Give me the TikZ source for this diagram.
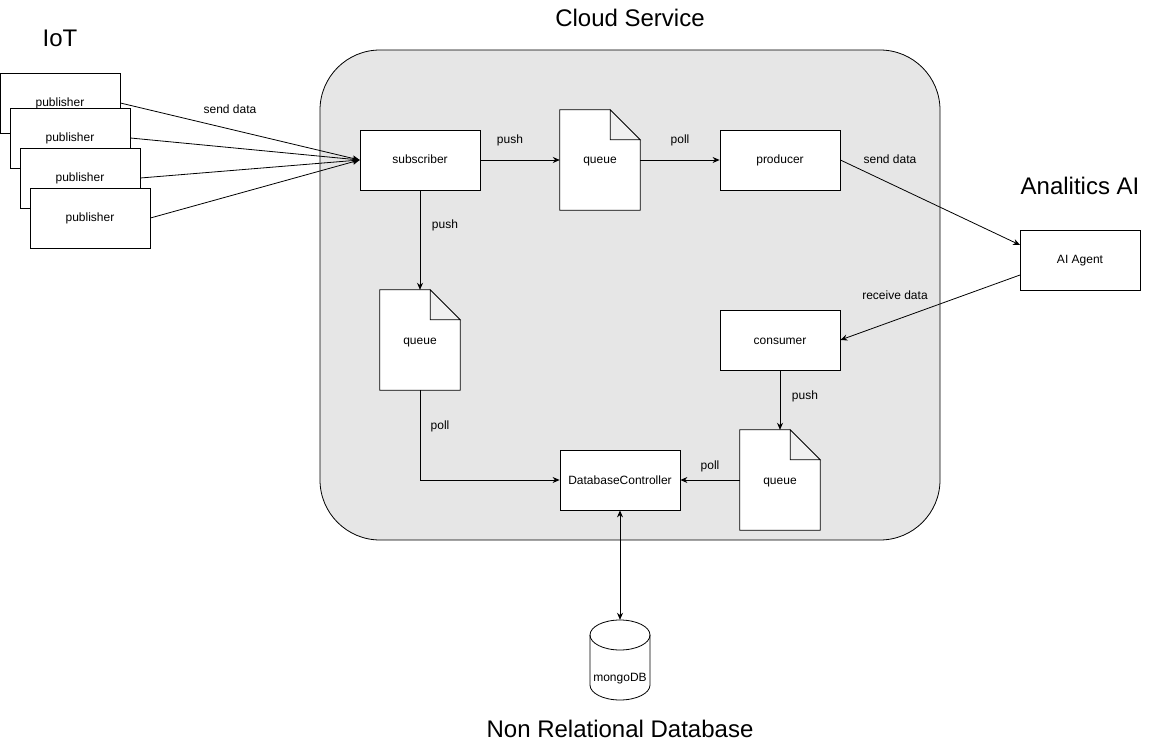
\documentclass[tikz,border=0pt]{standalone}
\usepackage{fontspec}
\setmainfont{Liberation Sans}
\usetikzlibrary{arrows.meta}
\definecolor{cloudgray}{HTML}{E6E6E6}
\definecolor{foldgray}{HTML}{F0F0F0}
\tikzset{
  box/.style={draw, fill=white, line width=0.8pt, minimum width=120pt, minimum height=60pt, inner sep=0pt, text height=10pt, text depth=2pt, font=\fontsize{12}{14}\selectfont},
  qbox/.style={minimum width=80pt, minimum height=100pt, inner sep=0pt, text height=10pt, text depth=2pt, font=\fontsize{12}{14}\selectfont},
  qshape/.style={draw, fill=white, line width=0.8pt},
  title/.style={font=\fontsize{24}{28}\selectfont, text height=18pt, text depth=4pt},
  lbl/.style={font=\fontsize{12}{14}\selectfont, inner sep=1pt, text height=10pt, text depth=2pt},
  conn/.style={draw, line width=0.8pt, -{Stealth[length=7pt,width=6pt]}},
}
\begin{document}
\begin{tikzpicture}[x=1pt,y=-1pt]
\useasboundingbox (0,0) rectangle (1151,751);
% container
\draw[fill=cloudgray, line width=0.8pt, rounded corners=60pt] (320,50) rectangle (940,540);
% titles
\node[title] (tcloud) at (630,20) {Cloud Service};
\node[title] (tiot) at (60,40) {IoT};
\node[title] (tai) at (1080,188) {Analitics AI};
\node[title] (tdb) at (620,730) {Non Relational Database};
% publishers
\node[box] (p1) at (60,103) {publisher};
\node[box] (p2) at (70,138) {publisher};
\node[box] (p3) at (80,178) {publisher};
\node[box] (p4) at (90,218) {publisher};
% boxes
\node[box] (sub) at (420,160) {subscriber};
\node[box] (prod) at (780,160) {producer};
\node[box] (cons) at (780,340) {consumer};
\node[box] (dbc) at (620,480) {DatabaseController};
\node[box] (ai) at (1080,260) {AI Agent};
% queues
\foreach \n/\x/\y in {q1/600/160, q2/420/340, q3/780/480}{
  \node[qbox] (\n) at (\x,\y) {};
  \draw[qshape] (\n.south west) -- (\n.north west) -- ([xshift=-30pt]\n.north east) -- ([yshift=-30pt]\n.north east) -- (\n.south east) -- cycle;
  \draw[fill=foldgray, line width=0.8pt] ([xshift=-30pt]\n.north east) -- ([xshift=-30pt,yshift=-30pt]\n.north east) -- ([yshift=-30pt]\n.north east) -- cycle;
  \node[qbox] at (\n) {queue};
}
% cylinder
\node[minimum width=60pt, minimum height=80pt, inner sep=0pt] (db) at (620,660) {};
\draw[fill=white, line width=0.8pt] (590,635) -- (590,685) arc[start angle=180, end angle=360, x radius=30pt, y radius=15pt] -- (650,635) arc[start angle=0, end angle=180, x radius=30pt, y radius=15pt] -- cycle;
\draw[line width=0.8pt] (590,635) arc[start angle=180, end angle=360, x radius=30pt, y radius=15pt];
\node[lbl] at (620,677) {mongoDB};
% connectors
\draw[conn] (p1.east) -- (sub.west);
\draw[conn] (p2.east) -- (sub.west);
\draw[conn] (p3.east) -- (sub.west);
\draw[conn] (p4.east) -- (sub.west);
\node[lbl] at (230,110) {send data};
\draw[conn] (sub.east) -- (q1.west);
\node[lbl] at (510,140) {push};
\draw[conn] (q1.east) -- (prod.west);
\node[lbl] at (680,140) {poll};
\coordinate (aiin) at (1020,245);
\coordinate (aiout) at (1020,275);
\draw[conn] (prod.east) -- (aiin);
\node[lbl] at (890,160) {send data};
\draw[conn] (aiout) -- (cons.east);
\node[lbl] at (895,295) {receive data};
\draw[conn] (sub.south) -- (q2.north);
\node[lbl] at (445,225) {push};
\draw[conn] (q2.south) |- (dbc.west);
\node[lbl] at (440,425) {poll};
\draw[conn] (cons.south) -- (q3.north);
\node[lbl] at (805,395) {push};
\draw[conn] (q3.west) -- (dbc.east);
\node[lbl] at (710,465) {poll};
\draw[conn, {Stealth[length=7pt,width=6pt]}-{Stealth[length=7pt,width=6pt]}] (dbc.south) -- (db.north);
\end{tikzpicture}
\end{document}
